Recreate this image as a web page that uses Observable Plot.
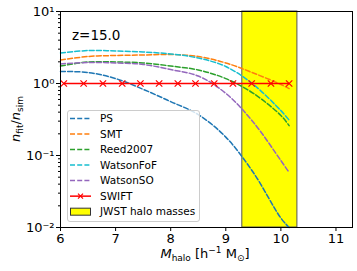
<!DOCTYPE html>
<html><head><meta charset="utf-8">
<script src="https://cdn.jsdelivr.net/npm/d3@7"></script>
<script src="https://cdn.jsdelivr.net/npm/@observablehq/plot@0.6"></script>
<style>body{margin:0;background:#fff}#chart{width:357px;height:271px}</style>
</head><body><div id="chart"></div>
<script>
// Data
const masses = [6, 6.5, 7, 7.5, 8, 8.5, 9, 9.5, 10, 10.15];
const PS = [1.47, 1.42, 1.17, 0.83, 0.56, 0.37, 0.18, 0.058, 0.0135, 0.01];
const SMT = [2.12, 2.37, 2.45, 2.49, 2.53, 2.37, 1.93, 1.40, 0.97, 0.85];
const Reed2007 = [1.75, 1.99, 1.99, 1.93, 1.75, 1.54, 1.17, 0.73, 0.36, 0.26];
const WatsonFoF = [2.65, 2.87, 2.83, 2.74, 2.57, 2.26, 1.72, 0.97, 0.42, 0.31];
const WatsonSO = [1.87, 1.96, 1.93, 1.84, 1.56, 1.27, 0.73, 0.29, 0.085, 0.058];
const swiftMasses = [6.06, 6.42, 6.77, 7.12, 7.45, 7.79, 8.13, 8.45, 8.79, 9.13, 9.47, 9.82, 10.15];
const swiftValues = [1, 1, 1, 1, 1, 1, 1, 1, 1, 1, 1, 1, 1];
const jwstRange = [9.3, 10.3];
const xDomain = [6, 11.3];
const yDomain = [0.01, 10];
const xTicks = [6, 7, 8, 9, 10, 11];
const yMajor = [0.01, 0.1, 1, 10];
const yMajorLabels = ["10⁻²", "10⁻¹", "10⁰", "10¹"];
const yMinor = [0.02,0.03,0.04,0.05,0.06,0.07,0.08,0.09,0.2,0.3,0.4,0.5,0.6,0.7,0.8,0.9,2,3,4,5,6,7,8,9];
const seriesNames = ["PS", "SMT", "Reed2007", "WatsonFoF", "WatsonSO"];
const seriesValues = [PS, SMT, Reed2007, WatsonFoF, WatsonSO];
const colors = ["#1f77b4", "#ff7f0e", "#2ca02c", "#17becf", "#9467bd"];
const swiftColor = "#ff0000";

const rows = [];
seriesNames.forEach((s, i) => masses.forEach((m, j) => rows.push({s, m, v: seriesValues[i][j]})));
const swift = swiftMasses.map((m, i) => ({m, v: swiftValues[i]}));

const plot = Plot.plot({
  width: 357, height: 271,
  marginLeft: 60, marginRight: 5, marginTop: 11, marginBottom: 44,
  style: {fontFamily: "DejaVu Sans", fontSize: "13px", color: "black", background: "white"},
  x: {domain: xDomain},
  y: {type: "log", domain: yDomain},
  color: {domain: seriesNames, range: colors},
  marks: [
    Plot.rect([jwstRange], {x1: d => d[0], x2: d => d[1], y1: yDomain[0], y2: yDomain[1], fill: "#ffff00", stroke: "#555", strokeWidth: 1}),
    Plot.line(rows, {x: "m", y: "v", z: "s", stroke: "s", strokeWidth: 1.5, strokeDasharray: "5,2.2", curve: "catmull-rom"}),
    Plot.line(swift, {x: "m", y: "v", stroke: swiftColor, strokeWidth: 1.5}),
    Plot.dot(swift, {x: "m", y: "v", symbol: "times", stroke: swiftColor, r: 3, strokeWidth: 1.2}),
    Plot.frame({stroke: "black", strokeWidth: 1}),
    Plot.axisX(xTicks, {tickSize: 4, tickPadding: 2, fontSize: 13, label: null}),
    Plot.axisY(yMajor, {tickSize: 4, tickPadding: 2, fontSize: 13, label: null, tickFormat: d => yMajorLabels[yMajor.indexOf(d)]}),
    Plot.axisY(yMinor, {tickSize: 2, tickFormat: () => "", label: null})
  ]
});
document.getElementById("chart").appendChild(plot);

const svg = d3.select(plot);
const ff = "DejaVu Sans";
// z label
svg.append("text").attr("x", 72).attr("y", 40).attr("text-anchor", "start").attr("font-family", ff).attr("font-size", 13.5).text("z=15.0");
// x label
const xl = svg.append("text").attr("x", 205).attr("y", 258).attr("text-anchor", "middle").attr("font-family", ff).attr("font-size", 13);
xl.append("tspan").attr("font-style", "italic").text("M");
xl.append("tspan").attr("font-size", 9).attr("dy", 2.5).text("halo");
xl.append("tspan").attr("dy", -2.5).text(" [h");
xl.append("tspan").attr("font-size", 9).attr("dy", -5).text("−1");
xl.append("tspan").attr("dy", 5).text(" M");
xl.append("tspan").attr("font-size", 9).attr("dy", 2.5).text("⊙");
xl.append("tspan").attr("dy", -2.5).text("]");
// y label
const yl = svg.append("text").attr("transform", "translate(20,119) rotate(-90)").attr("text-anchor", "middle").attr("font-family", ff).attr("font-size", 13);
yl.append("tspan").attr("font-style", "italic").text("n");
yl.append("tspan").attr("font-size", 9).attr("dy", 2.5).text("fit");
yl.append("tspan").attr("dy", -2.5).text("/");
yl.append("tspan").attr("font-style", "italic").text("n");
yl.append("tspan").attr("font-size", 9).attr("dy", 2.5).text("sim");

// legend
const lg = svg.append("g").attr("text-anchor", "start");
lg.append("rect").attr("x", 67.5).attr("y", 110.5).attr("width", 132).attr("height", 111).attr("rx", 2.5)
  .attr("fill", "white").attr("fill-opacity", 0.8).attr("stroke", "#cccccc").attr("stroke-width", 1);
const y0 = 118.5, dyL = 15.53;
seriesNames.forEach((s, i) => {
  const y = y0 + i * dyL;
  lg.append("line").attr("x1", 70).attr("x2", 91).attr("y1", y).attr("y2", y).attr("stroke", colors[i]).attr("stroke-width", 1.5).attr("stroke-dasharray", "5,2.2");
  lg.append("text").attr("x", 100).attr("y", y).attr("dy", "0.35em").attr("font-family", ff).attr("font-size", 10.5).text(s);
});
{
  const y = y0 + 5 * dyL;
  lg.append("line").attr("x1", 70).attr("x2", 91).attr("y1", y).attr("y2", y).attr("stroke", swiftColor).attr("stroke-width", 1.5);
  lg.append("path").attr("d", `M${80.5-2.5},${y-2.5}L${80.5+2.5},${y+2.5}M${80.5-2.5},${y+2.5}L${80.5+2.5},${y-2.5}`).attr("stroke", swiftColor).attr("stroke-width", 1.2);
  lg.append("text").attr("x", 100).attr("y", y).attr("dy", "0.35em").attr("font-family", ff).attr("font-size", 10.5).text("SWIFT");
}
{
  const y = y0 + 6 * dyL;
  lg.append("rect").attr("x", 70.5).attr("y", y - 3.5).attr("width", 20).attr("height", 7).attr("fill", "#ffff00").attr("stroke", "#333").attr("stroke-width", 1);
  lg.append("text").attr("x", 100).attr("y", y).attr("dy", "0.35em").attr("font-family", ff).attr("font-size", 10.5).text("JWST halo masses");
}
</script></body></html>
